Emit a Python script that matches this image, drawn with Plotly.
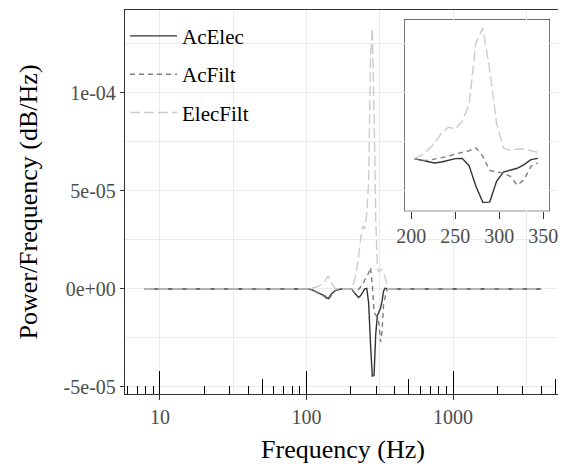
import numpy as np
import plotly.graph_objects as go

# frequency bins (Hz) and power/frequency differences (units of 1e-5 dB/Hz)
freq = [7.8125, 101.5625, 109.375, 117.1875, 125.0, 132.8125, 140.625, 148.4375,
        156.25, 164.0625, 171.875, 195.3125, 203.125, 210.9375, 218.75, 226.5625,
        234.375, 242.1875, 250.0, 257.8125, 265.625, 273.4375, 281.25, 289.0625,
        296.875, 304.6875, 312.5, 320.3125, 328.125, 335.9375, 343.75, 351.5625,
        359.375, 367.1875, 3992.1875]
ac_elec = [0, 0, -0.05, -0.15, -0.25, -0.35, -0.5, -0.25,
           -0.1, -0.03, 0, 0, 0, -0.17, -0.34, -0.44,
           -0.34, -0.17, 0, 0.03, -0.71, -2.8, -4.45, -4.42,
           -2.3, -1.36, -1.19, -0.98, -0.61, -0.1, 0.03, 0,
           0, 0, 0]
ac_filt = [0, 0, -0.05, -0.15, -0.28, -0.4, -0.58, -0.3,
           -0.1, -0.03, 0, 0, 0, -0.17, -0.17, -0.03,
           0.1, 0.24, 0.47, 0.64, 0.81, 1.1, 0.24, -1.19,
           -1.36, -1.45, -1.8, -2.7, -2.14, -0.78, -0.44, -0.1,
           0, 0, 0]
elec_filt = [0, 0, 0.05, 0.1, 0.2, 0.35, 0.66, 0.3,
             0.05, 0, 0, 0, 0, 0.34, 0.85, 1.6,
             2.6, 3.2, 3.05, 3.8, 5.5, 11.8, 13.3, 9.1,
             3.6, 1.08, 0.85, 0.98, 0.98, 0.81, 0.64, 0.25,
             0, 0, 0]
SCALE = 1e-5

y_ticks = [-5e-5, 0, 5e-5, 1e-4]
y_labels = ["-5e-05", "0e+00", "5e-05", "1e-04"]
x_ticks = [10, 100, 1000]
x_labels = ["10", "100", "1000"]
inset_ticks = [200, 250, 300, 350]

series = [("AcElec", ac_elec, "#333333", "solid"),
          ("AcFilt", ac_filt, "#7F7F7F", "5px,4px"),
          ("ElecFilt", elec_filt, "#CCCCCC", "10px,4px")]

FONT = "Liberation Serif"
f = np.array(freq)
in_inset = (f >= 200) & (f <= 350)
xrange_log = [np.log10(5.77), np.log10(5460)]

fig = go.Figure()
for name, vals, col, dash in series:
    y = np.array(vals) * SCALE
    fig.add_trace(go.Scatter(x=f, y=y, mode="lines", name=name, legendgroup=name,
                             line=dict(color=col, width=1.4, dash=dash), hoverinfo="skip"))
for name, vals, col, dash in series:
    y = np.array(vals) * SCALE
    fig.add_trace(go.Scatter(x=f[in_inset], y=y[in_inset], mode="lines", showlegend=False,
                             line=dict(color=col, width=1.4, dash=dash), hoverinfo="skip",
                             xaxis="x4", yaxis="y4"))

# invisible traces so the log-tick overlay axes get drawn
for ax in ["x2", "x3", "x5"]:
    fig.add_trace(go.Scatter(x=[freq[0]], y=[0], mode="markers", marker=dict(opacity=0),
                             showlegend=False, hoverinfo="skip", xaxis=ax, yaxis="y"))

grid = "#EBEBEB"
axis_col = "#333333"
tick_font = dict(family=FONT, size=20, color="#4D4D4D")

# the html page adds an 8px body margin, so the figure is 8px smaller on each side
fig.update_layout(
    width=558, height=456,
    margin=dict(l=117, r=5, t=2, b=70),
    paper_bgcolor="white", plot_bgcolor="white",
    font=dict(family=FONT, size=20, color="#4D4D4D"),
    legend=dict(x=0.0, y=0.985, xanchor="left", yanchor="top", bgcolor="rgba(0,0,0,0)",
                font=dict(family=FONT, size=21, color="black"), tracegroupgap=8, itemwidth=47),
    xaxis=dict(type="log", range=xrange_log, tickvals=x_ticks, ticktext=x_labels,
               ticks="outside", ticklen=5, tickcolor=axis_col, tickwidth=1.3,
               showgrid=True, gridcolor=grid, gridwidth=1.1,
               minor=dict(tickvals=[31.62, 316.2, 3162], showgrid=True, gridcolor=grid,
                          gridwidth=0.6, ticks=""),
               showline=True, mirror=True, linecolor=axis_col, linewidth=1.4, zeroline=False,
               tickfont=tick_font, automargin=False,
               title=dict(text="Frequency (Hz)", font=dict(family=FONT, size=26, color="black"),
                          standoff=12)),
    yaxis=dict(range=[-5.36e-5, 14.23e-5], tickvals=y_ticks, ticktext=y_labels,
               ticks="outside", ticklen=4, tickcolor=axis_col, tickwidth=1.3,
               showgrid=True, gridcolor=grid, gridwidth=1.1,
               minor=dict(tickvals=[-2.5e-5, 2.5e-5, 7.5e-5, 12.5e-5], showgrid=True,
                          gridcolor=grid, gridwidth=0.6, ticks=""),
               showline=True, mirror=True, linecolor=axis_col, linewidth=1.4, zeroline=False,
               tickfont=tick_font, automargin=False,
               title=dict(text="Power/Frequency (dB/Hz)",
                          font=dict(family=FONT, size=26, color="black"), standoff=18)),
    xaxis4=dict(domain=[0.6415, 0.9732], anchor="y4", range=[192.5, 356.8],
                tickvals=inset_ticks, ticks="outside", ticklen=7, tickcolor=axis_col,
                tickwidth=1.3, showgrid=False, zeroline=False, showline=False,
                tickfont=tick_font, automargin=False),
    yaxis4=dict(domain=[0.4773, 0.9747], anchor="x4", range=[-5.3e-5, 14.15e-5],
                showticklabels=False, ticks="", showgrid=False, zeroline=False,
                showline=False, automargin=False),
)

# log-scale tick marks along the bottom of the panel (long / mid / short)
logticks = [("xaxis2", [10, 100, 1000], 23),
            ("xaxis3", [50, 500, 5000], 15),
            ("xaxis5", [6, 7, 8, 9, 20, 30, 40, 60, 70, 80, 90, 200, 300, 400, 600, 700,
                        800, 900, 2000, 3000, 4000], 8)]
for key, vals, ln in logticks:
    fig.update_layout({key: dict(type="log", range=xrange_log, overlaying="x", anchor="y",
                                 side="bottom", tickvals=vals, ticks="inside", ticklen=ln,
                                 tickcolor="black", tickwidth=1.3, showticklabels=False,
                                 showgrid=False, showline=False, zeroline=False,
                                 automargin=False)})

# white inset panel with border
fig.add_shape(type="rect", xref="x4 domain", yref="y4 domain", x0=0, x1=1, y0=0, y1=1,
              fillcolor="white", line=dict(color=axis_col, width=1.3), layer="below")

fig.write_html("out.html")
